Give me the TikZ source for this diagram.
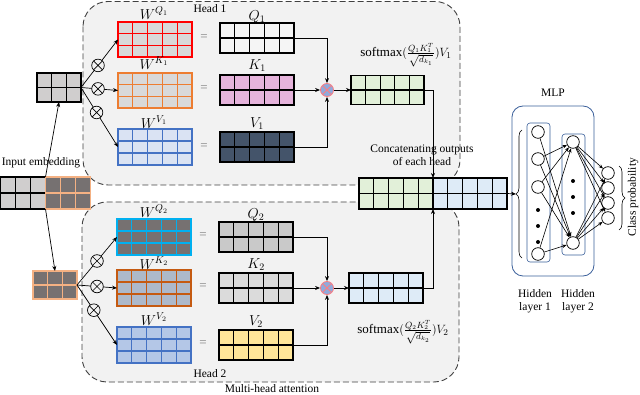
\documentclass[tikz,border=0pt]{standalone}
\usepackage{fontspec}
\setmainfont{Liberation Serif}
\usetikzlibrary{arrows.meta,calc,decorations.pathreplacing}
\definecolor{boxbg}{HTML}{F2F2F2}
\definecolor{boxline}{HTML}{404040}
\definecolor{lgray}{HTML}{D0CECE}
\definecolor{dkgray}{HTML}{767171}
\definecolor{tan}{HTML}{F4B183}
\definecolor{wgray}{HTML}{D9D9D9}
\definecolor{wred}{HTML}{FF0000}
\definecolor{worange}{HTML}{ED7D31}
\definecolor{wvfill}{HTML}{DAE3F3}
\definecolor{wblue}{HTML}{4472C4}
\definecolor{qfill}{HTML}{F5F5F5}
\definecolor{kpink}{HTML}{E6B4DC}
\definecolor{vnavy}{HTML}{44546A}
\definecolor{ogreen}{HTML}{E2F0D9}
\definecolor{oblue}{HTML}{DEEBF7}
\definecolor{wcyan}{HTML}{00B0F0}
\definecolor{wkfill}{HTML}{ADB9CA}
\definecolor{wbrown}{HTML}{C55A11}
\definecolor{wv2fill}{HTML}{B4C7E7}
\definecolor{q2fill}{HTML}{C9C9C9}
\definecolor{k2fill}{HTML}{DBDBDB}
\definecolor{vyellow}{HTML}{FFE699}
\definecolor{mulfill}{HTML}{8FAADC}
\definecolor{mulred}{HTML}{FF7C80}
\definecolor{mlpblue}{HTML}{3A5F9A}
\definecolor{eqgray}{HTML}{808080}
\tikzset{
  matbox/.style={rectangle, inner sep=0, outer sep=0, line width=1.2pt},
  headbox/.style={draw=boxline, fill=boxbg, line width=0.9pt, dash pattern=on 6pt off 3pt, rounded corners=25},
  arr/.style={-{Stealth[length=5pt,width=4pt]}, line width=0.7pt},
  narr/.style={-{Stealth[length=4.5pt,width=3.5pt]}, line width=0.6pt},
  otimesn/.style={circle, draw, fill=boxbg, minimum size=12.6, inner sep=0, line width=0.7pt,
    path picture={\draw[line width=0.7pt] (path picture bounding box.north west)--(path picture bounding box.south east)
      (path picture bounding box.north east)--(path picture bounding box.south west);}},
  muln/.style={circle, draw=mulred, fill=mulfill, minimum size=13, inner sep=0, line width=0.8pt,
    path picture={\draw[mulred, line width=0.8pt] (path picture bounding box.north west)--(path picture bounding box.south east)
      (path picture bounding box.north east)--(path picture bounding box.south west);}},
  lbl/.style={font=\fontsize{11.5}{13}\selectfont, inner sep=0},
  mlbl/.style={font=\fontsize{14}{16}\selectfont, inner sep=0},
  eqn/.style={font=\fontsize{13}{15}\selectfont, text=eqgray, inner sep=0},
  neuron/.style={circle, draw, fill=white, minimum size=12.6, inner sep=0, line width=0.7pt},
  dotn/.style={circle, fill=black, minimum size=4, inner sep=0},
  mlpbox/.style={draw=mlpblue, line width=0.8pt},
}
% name, cx, cy, w, h, cols-1, rows-1, fill, draw
\newcommand{\gridmat}[9]{%
  \node[matbox, fill=#8, draw=#9, minimum width=#4, minimum height=#5] (#1) at (#2,#3) {};
  \foreach \i in {1,...,#6} \draw[#9, line width=1.2pt] ($(#1.north west)!{\i/(#6+1)}!(#1.north east)$) -- ($(#1.south west)!{\i/(#6+1)}!(#1.south east)$);
  \foreach \j in {1,...,#7} \draw[#9, line width=1.2pt] ($(#1.north west)!{\j/(#7+1)}!(#1.south west)$) -- ($(#1.north east)!{\j/(#7+1)}!(#1.south east)$);
}
\begin{document}
\begin{tikzpicture}[x=1pt,y=-1pt]
\useasboundingbox (0,0) rectangle (640,395);
% head boxes
\draw[headbox] (83,1.5) rectangle (460,185);
\draw[headbox] (82,202) rectangle (459,382);
\node[lbl] (h1lbl) at (210,9) {Head 1};
\node[lbl] (h2lbl) at (210,374) {Head 2};
\node[lbl] (mha) at (272,389) {Multi-head attention};
% input embedding
\gridmat{ig}{23}{193}{45}{32}{2}{1}{lgray}{black}
\gridmat{id}{68}{193}{45}{32}{2}{1}{dkgray}{tan}
\node[lbl] (inlbl) at (41,163) {Input embedding};
% head 1
\gridmat{e1}{59}{87.5}{44}{29}{2}{1}{lgray}{black}
\gridmat{wq1}{155}{39.5}{74}{35}{4}{2}{wgray}{wred}
\gridmat{wk1}{155}{90.5}{74}{35}{4}{2}{wgray}{worange}
\gridmat{wv1}{155}{147}{74}{36}{4}{2}{wvfill}{wblue}
\gridmat{q1}{257}{38}{74}{30}{4}{1}{qfill}{black}
\gridmat{k1}{257}{90}{74}{30}{4}{1}{kpink}{black}
\gridmat{v1}{257}{147}{74}{30}{4}{1}{vnavy}{black}
\gridmat{o1}{387.5}{90}{73}{29}{4}{1}{ogreen}{black}
\node[mlbl] (lwq1) at (154,13) {$W^{Q_1}$};
\node[mlbl] (lwk1) at (154,63) {$W^{K_1}$};
\node[mlbl] (lwv1) at (154,122) {$W^{V_1}$};
\node[mlbl] (lq1) at (257,17) {$Q_1$};
\node[mlbl] (lk1) at (257,66) {$K_1$};
\node[mlbl] (lv1) at (257,124) {$V_1$};
\node[eqn] (eq1) at (204,38) {=};
\node[eqn] (eq2) at (204,89) {=};
\node[eqn] (eq3) at (204,147) {=};
% head 2
\gridmat{e2}{55}{285}{44}{28}{2}{1}{dkgray}{tan}
\gridmat{wq2}{154}{237}{74}{36}{4}{2}{dkgray}{wcyan}
\gridmat{wk2}{154}{288}{74}{36}{4}{2}{wkfill}{wbrown}
\gridmat{wv2}{154}{345}{74}{36}{4}{2}{wv2fill}{wblue}
\gridmat{q2}{256}{237}{74}{30}{4}{1}{q2fill}{black}
\gridmat{k2}{256}{288}{74}{30}{4}{1}{k2fill}{black}
\gridmat{v2}{256}{345}{74}{30}{4}{1}{vyellow}{black}
\gridmat{o2}{386}{288}{74}{30}{4}{1}{oblue}{black}
\node[mlbl] (lwq2) at (154,211) {$W^{Q_2}$};
\node[mlbl] (lwk2) at (154,263) {$W^{K_2}$};
\node[mlbl] (lwv2) at (154,319) {$W^{V_2}$};
\node[mlbl] (lq2) at (256,215) {$Q_2$};
\node[mlbl] (lk2) at (256,265) {$K_2$};
\node[mlbl] (lv2) at (256,322) {$V_2$};
\node[eqn] (eq4) at (203,236) {=};
\node[eqn] (eq5) at (203,287) {=};
\node[eqn] (eq6) at (203,344) {=};
% arrows from input
\draw[arr] (ig.north east) -- (e1.south);
\draw[arr] (ig.south east) -- (e2.north);
\draw[arr] (e1.east) -- (wq1.west);
\draw[arr] (e1.east) -- (wk1.west);
\draw[arr] (e1.east) -- (wv1.west);
\draw[arr] (e2.east) -- (wq2.west);
\draw[arr] (e2.east) -- (wk2.west);
\draw[arr] (e2.east) -- (wv2.west);
\node[otimesn] (x1) at ($(e1.east)!0.46!(wq1.west)$) {};
\node[otimesn] (x2) at ($(e1.east)!0.46!(wk1.west)$) {};
\node[otimesn] (x3) at ($(e1.east)!0.42!(wv1.west)$) {};
\node[otimesn] (x4) at ($(e2.east)!0.5!(wq2.west)$) {};
\node[otimesn] (x5) at ($(e2.east)!0.5!(wk2.west)$) {};
\node[otimesn] (x6) at ($(e2.east)!0.42!(wv2.west)$) {};
% attention products
\node[muln] (m1) at (327,90) {};
\node[muln] (m2) at (327,288) {};
\draw[arr] (q1.east) -| (m1.north);
\draw[arr] (k1.east) -- (m1.west);
\draw[arr] (v1.east) -| (m1.south);
\draw[arr] (m1.east) -- (o1.west);
\draw[arr] (q2.east) -| (m2.north);
\draw[arr] (k2.east) -- (m2.west);
\draw[arr] (v2.east) -| (m2.south);
\draw[arr] (m2.east) -- (o2.west);
\node[font=\fontsize{13}{15}\selectfont, inner sep=0] (sm1) at (406,55) {softmax$(\frac{Q_1K_1^T}{\sqrt{d_{k_1}}})V_1$};
\node[font=\fontsize{13}{15}\selectfont, inner sep=0] (sm2) at (403,332) {softmax$(\frac{Q_2K_2^T}{\sqrt{d_{k_2}}})V_2$};
% concat
\gridmat{cg}{396}{193.5}{74}{31}{4}{1}{ogreen}{black}
\gridmat{cb}{470}{193.5}{74}{31}{4}{1}{oblue}{black}
\draw[arr] (o1.east) -| (cg.north east);
\draw[arr] (o2.east) -| (cg.south east);
\node[lbl, align=center] (catlbl) at (422,155.5) {Concatenating outputs\\of each head};
% MLP
\node[lbl] (mlplbl) at (553,93) {MLP};
\draw[mlpbox, rounded corners=11] (512,106) rectangle (594,276);
\draw[mlpbox, line width=0.6pt, rounded corners=3] (527,123) rectangle (550,262);
\draw[mlpbox, line width=0.6pt, rounded corners=3] (562,134) rectangle (585,255);
\draw[decorate, decoration={brace, amplitude=6pt}, line width=0.6pt] (522,258) -- (522,130);
\draw[decorate, decoration={brace, amplitude=6pt}, line width=0.6pt] (619,166) -- (619,230);
\coordinate (bt) at (516,194);
\draw[arr] (cb.east) -- (bt);
\node[neuron] (a1) at (538,132) {};
\node[neuron] (a2) at (538,159) {};
\node[neuron] (a3) at (538,187) {};
\node[neuron] (a4) at (538,254) {};
\node[dotn] (ad1) at (538,210) {};
\node[dotn] (ad2) at (538,226) {};
\node[dotn] (ad3) at (538,242) {};
\node[neuron] (b1) at (573,142) {};
\node[neuron] (b2) at (573,243) {};
\node[dotn] (bd1) at (573,181) {};
\node[dotn] (bd2) at (573,197) {};
\node[dotn] (bd3) at (573,213) {};
\node[neuron] (c1) at (608,173) {};
\node[neuron] (c2) at (608,188) {};
\node[neuron] (c3) at (608,203) {};
\node[neuron] (c4) at (608,218) {};
\draw[narr] (a1) -- (b2);
\foreach \s in {a2,a3,a4} { \draw[narr] (\s) -- (b1); \draw[narr] (\s) -- (b2); }
\foreach \s in {b1,b2} \foreach \t in {c1,c2,c3,c4} \draw[narr] (\s) -- (\t);
\node[lbl, align=center] (hl1) at (535,301.5) {Hidden\\layer 1};
\node[lbl, align=center] (hl2) at (578,301.5) {Hidden\\layer 2};
\node[lbl, rotate=90] (cp) at (633,197) {Class probability};
\end{tikzpicture}
\end{document}
